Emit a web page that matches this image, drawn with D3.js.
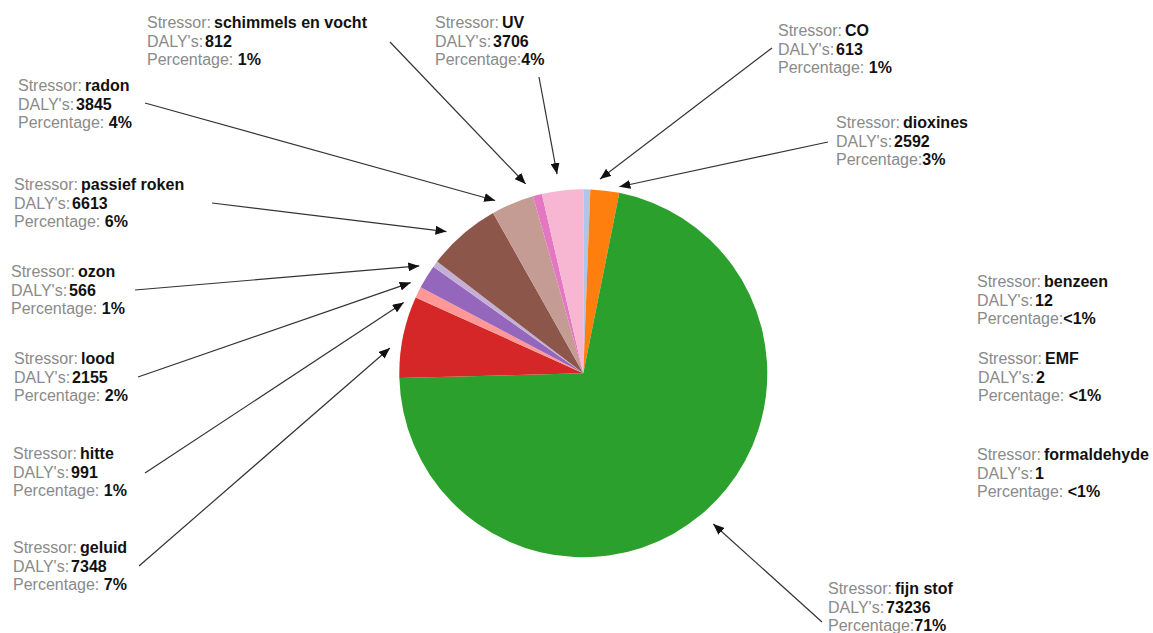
<!DOCTYPE html>
<html>
<head>
<meta charset="utf-8">
<script src="https://cdn.jsdelivr.net/npm/d3@7"></script>
<style>
  html, body { margin: 0; padding: 0; background: #fff; }
  svg { display: block; font-family: "Liberation Sans", Arial, sans-serif; }
</style>
</head>
<body>
<svg id="chart" width="1153" height="633"></svg>
<script>
// ---- data ----
const stressors = ["benzeen", "CO", "dioxines", "EMF", "fijn stof", "formaldehyde", "geluid",
                   "hitte", "lood", "ozon", "passief roken", "radon", "schimmels en vocht", "UV"];
const dalys = [12, 613, 2592, 2, 73236, 1, 7348, 991, 2155, 566, 6613, 3845, 812, 3706];
const percentages = ["<1%", "1%", "3%", "<1%", "71%", "<1%", "7%", "1%", "2%", "1%", "6%", "4%", "1%", "4%"];
const pctSpaced = [false, true, false, true, false, true, true, true, true, true, true, true, true, false];

// ---- styles / layout ----
const colors = ["#1f77b4", "#aec7e8", "#ff7f0e", "#ffbb78", "#2ca02c", "#98df8a", "#d62728",
                "#ff9896", "#9467bd", "#c5b0d5", "#8c564b", "#c49c94", "#e377c2", "#f7b6d2"];
// label text anchor (x, first baseline), arrow tail, arrow tip angular shift (deg) and tip radius
const labelLayout = {
  "benzeen":            { x: 977, y: 287, tail: null },
  "CO":                 { x: 778, y: 36,  tail: [772, 48],  shift: 3.8,  tipR: 195 },
  "dioxines":           { x: 836, y: 128, tail: [828, 142], shift: 4.2,  tipR: 190 },
  "EMF":                { x: 978, y: 364, tail: null },
  "fijn stof":          { x: 828, y: 594, tail: [822, 622], shift: -0.7, tipR: 199 },
  "formaldehyde":       { x: 977, y: 460, tail: null },
  "geluid":             { x: 13,  y: 553, tail: [139, 566], shift: -4,   tipR: 195 },
  "hitte":              { x: 13,  y: 459, tail: [145, 473], shift: -4.6, tipR: 193 },
  "lood":               { x: 14,  y: 364, tail: [138, 377], shift: -3.9, tipR: 195 },
  "ozon":               { x: 11,  y: 277, tail: [135, 290], shift: -3.2, tipR: 196 },
  "passief roken":      { x: 14,  y: 190, tail: [212, 203], shift: -3,   tipR: 197 },
  "radon":              { x: 18,  y: 91,  tail: [145, 103], shift: -4.4, tipR: 194 },
  "schimmels en vocht": { x: 147, y: 28,  tail: [390, 42],  shift: -2.5, tipR: 198 },
  "UV":                 { x: 435, y: 28,  tail: [539, 77],  shift: -1,   tipR: 201 }
};

const cx = 583.3, cy = 373.3, radius = 184;
const lineH = 18.5;

const svg = d3.select("#chart");

svg.append("defs").append("marker")
  .attr("id", "arrow")
  .attr("markerUnits", "userSpaceOnUse")
  .attr("markerWidth", 11).attr("markerHeight", 9)
  .attr("refX", 11).attr("refY", 4.5)
  .attr("orient", "auto")
  .append("path")
  .attr("d", "M0,0 L11,4.5 L0,9 Z")
  .attr("fill", "#111");

const rows = stressors.map((s, i) => ({ name: s, value: dalys[i], pct: percentages[i], spaced: pctSpaced[i], color: colors[i] }));

const pie = d3.pie().sort(null).value(d => d.value);
const arcs = pie(rows);
const arc = d3.arc().innerRadius(0).outerRadius(radius);

const g = svg.append("g").attr("transform", `translate(${cx},${cy})`);
g.selectAll("path.slice").data(arcs).enter().append("path")
  .attr("class", "slice")
  .attr("d", arc)
  .attr("fill", d => d.data.color);

// arrows
arcs.forEach(a => {
  const L = labelLayout[a.data.name];
  if (!L || !L.tail) return;
  const ang = (a.startAngle + a.endAngle) / 2 + L.shift * Math.PI / 180;
  const tx = cx + L.tipR * Math.sin(ang);
  const ty = cy - L.tipR * Math.cos(ang);
  svg.append("line")
    .attr("x1", L.tail[0]).attr("y1", L.tail[1])
    .attr("x2", tx).attr("y2", ty)
    .attr("stroke", "#333").attr("stroke-width", 1.2)
    .attr("marker-end", "url(#arrow)");
});

// labels
const grey = "#8a8a8a", dark = "#111";
rows.forEach(r => {
  const L = labelLayout[r.name];
  const t = svg.append("text").attr("font-size", 16);
  const lines = [
    ["Stressor:", r.name, 3],
    ["DALY's:", String(r.value), 2],
    [r.spaced ? "Percentage: " : "Percentage:", r.pct, r.spaced ? 0 : 0]
  ];
  lines.forEach((ln, k) => {
    const row = svg.append("text").attr("font-size", 16)
      .attr("x", L.x).attr("y", L.y + k * lineH);
    row.append("tspan").attr("fill", grey).text(ln[0]);
    row.append("tspan").attr("fill", dark).attr("font-weight", "bold").attr("dx", ln[2]).text(ln[1]);
  });
  t.remove();
});
</script>
</body>
</html>
